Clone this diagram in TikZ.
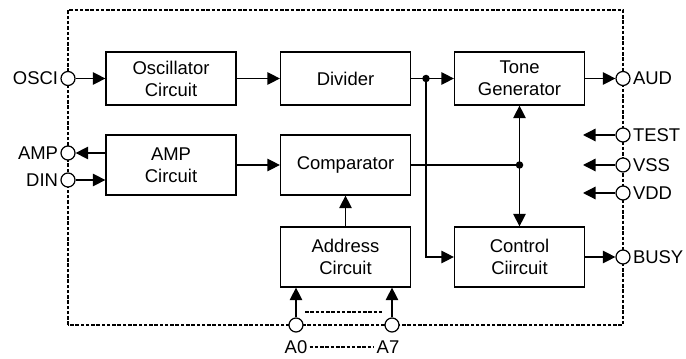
\documentclass[tikz,border=0pt]{standalone}
\usepackage{fontspec}
\setmainfont{Liberation Sans}
\usetikzlibrary{arrows.meta, positioning}

\begin{document}
\begin{tikzpicture}[
        >={Triangle[length=2.5mm, width=2.5mm]},
        line width=0.7pt,
        every node/.style={font=\fontsize{10.5}{12.5}\selectfont},
        block/.style={draw, align=center, minimum width=2.6cm, minimum height=1.2cm},
        pin/.style={draw, circle, fill=white, inner sep=0pt, minimum size=0.28cm},
        dot/.style={circle, fill, inner sep=0pt, minimum size=0.15cm},
        border/.style={dash pattern=on 2pt off 1pt, line width=0.6pt}
    ]
    \useasboundingbox (0,0) rectangle (13.72,7.16);
    % chip outline
    \draw[border] (1.36,0.66) rectangle (12.46,6.96);
    % blocks
    \node[block, minimum height=1.06cm] (osc) at (3.42,5.59) {Oscillator\\Circuit};
    \node[block, minimum height=1.06cm] (div) at (6.91,5.59) {Divider};
    \node[block, minimum height=1.06cm] (tone) at (10.39,5.59) {Tone\\Generator};
    \node[block] (amp) at (3.42,3.86) {AMP\\Circuit};
    \node[block] (comp) at (6.91,3.86) {Comparator};
    \node[block] (addr) at (6.91,2.02) {Address\\Circuit};
    \node[block] (ctrl) at (10.39,2.02) {Control\\Ciircuit};
    % pins
    \node[pin] (pOSCI) at (1.36,5.59) {};
    \node[pin] (pAMP) at (1.36,4.10) {};
    \node[pin] (pDIN) at (1.36,3.56) {};
    \node[pin] (pAUD) at (12.46,5.59) {};
    \node[pin] (pTEST) at (12.46,4.46) {};
    \node[pin] (pVSS) at (12.46,3.86) {};
    \node[pin] (pVDD) at (12.46,3.30) {};
    \node[pin] (pBUSY) at (12.46,2.02) {};
    \node[pin] (pA0) at (5.92,0.66) {};
    \node[pin] (pA7) at (7.84,0.66) {};
    \node[left=0pt of pOSCI, inner sep=1pt] (tOSCI) {OSCI};
    \node[left=0pt of pAMP, inner sep=1pt] (tAMP) {AMP};
    \node[left=0pt of pDIN, inner sep=1pt] (tDIN) {DIN};
    \node[right=0pt of pAUD, inner sep=1pt] (tAUD) {AUD};
    \node[right=0pt of pTEST, inner sep=1pt] (tTEST) {TEST};
    \node[right=0pt of pVSS, inner sep=1pt] (tVSS) {VSS};
    \node[right=0pt of pVDD, inner sep=1pt] (tVDD) {VDD};
    \node[right=0pt of pBUSY, inner sep=1pt] (tBUSY) {BUSY};
    \node[inner sep=1pt] (tA0) at (5.92,0.22) {A0};
    \node[inner sep=1pt] (tA7) at (7.76,0.22) {A7};
    % junctions and free ends
    \node[dot] (dot1) at (8.52,5.59) {};
    \node[dot] (dot2) at (10.39,3.86) {};
    \coordinate (eTEST) at (11.66,4.46);
    \coordinate (eVSS) at (11.66,3.86);
    \coordinate (eVDD) at (11.66,3.30);
    \coordinate (bA0) at (6.10,0.92);
    \coordinate (bA7) at (7.66,0.92);
    % signals
    \draw[->] (pOSCI.east) -- (osc.west);
    \draw[->] (osc.east) -- (div.west);
    \draw (div.east) -- (dot1.center);
    \draw[->] (dot1.center) -- (tone.west);
    \draw[->] (dot1.center) |- (ctrl.west);
    \draw[->] (pAMP -| amp.west) -- (pAMP.east);
    \draw[->] (pDIN.east) -- (pDIN -| amp.west);
    \draw[->] (amp.east) -- (comp.west);
    \draw (comp.east) -- (dot2.center);
    \draw[->] (dot2.center) -- (tone.south);
    \draw[->] (dot2.center) -- (ctrl.north);
    \draw[->] (addr.north) -- (comp.south);
    \draw[->] (pA0.north) -- (pA0 |- addr.south);
    \draw[->] (pA7.north) -- (pA7 |- addr.south);
    \draw[->] (tone.east) -- (pAUD.west);
    \draw[->] (ctrl.east) -- (pBUSY.west);
    \draw[->] (pTEST.west) -- (eTEST);
    \draw[->] (pVSS.west) -- (eVSS);
    \draw[->] (pVDD.west) -- (eVDD);
    \draw[border] (bA0) -- (bA7);
    \draw[border] (tA0) -- (tA7);
\end{tikzpicture}
\end{document}
